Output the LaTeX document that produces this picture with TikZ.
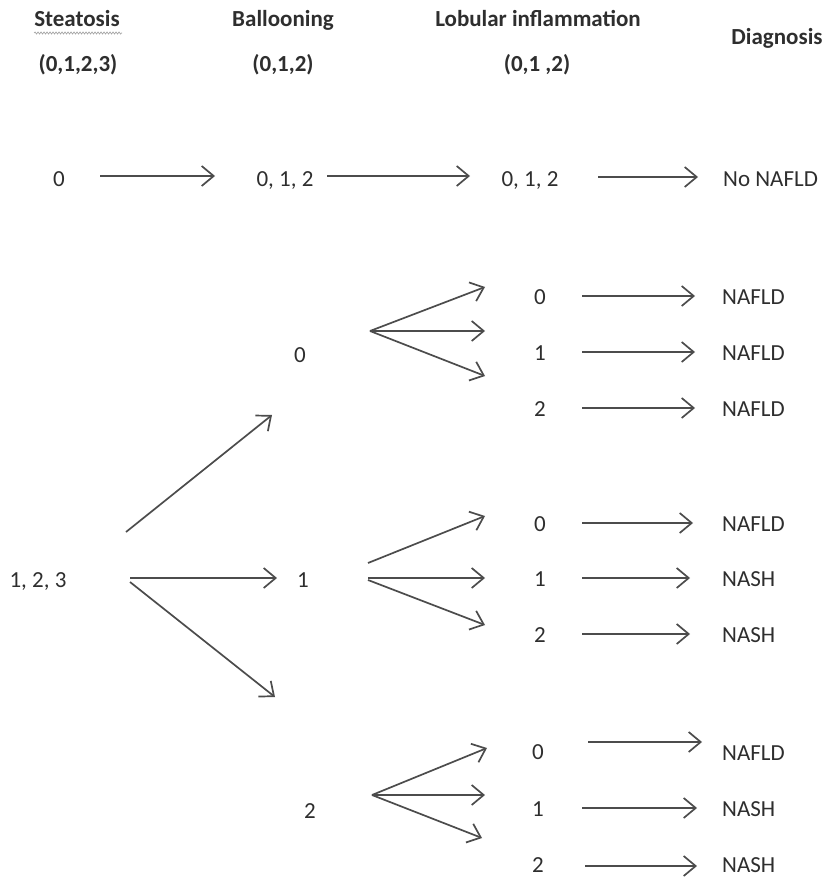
\documentclass[tikz,border=0pt]{standalone}
\usepackage{fontspec}
\setmainfont{Carlito}
\usetikzlibrary{arrows.meta,decorations.pathmorphing}
\begin{document}
\begin{tikzpicture}[x=1pt,y=-1pt,
  lbl/.style={font=\fontsize{23}{27}\selectfont, text=black!82, inner sep=0pt, anchor=base},
  dlbl/.style={lbl, anchor=base west},
  hdr/.style={lbl, font=\fontsize{23}{27}\selectfont\bfseries},
  arr/.style={draw=black!70, line width=1.7pt, -{Straight Barb[length=12pt,width=20pt,line width=1.7pt]}}]
\useasboundingbox (0,0) rectangle (825,877);
% headers
\node[hdr] (hS) at (77,27) {Steatosis};
\node[hdr] (hS2) at (78,72) {(0,1,2,3)};
\node[hdr] (hB) at (283,27) {Ballooning};
\node[hdr] (hB2) at (283,72) {(0,1,2)};
\node[hdr] (hL) at (538,27) {Lobular inflammation};
\node[hdr] (hL2) at (537,72) {(0,1 ,2)};
\node[hdr] (hD) at (777,45) {Diagnosis};
\draw[black!35, line width=0.7pt, decorate, decoration={snake, amplitude=1pt, segment length=3pt}] (hS.base west) ++(0,6) -- ++(88,0);
% row 1
\node[lbl] (s0) at (59,187) {0};
\node[lbl] (b012) at (285,187) {0, 1, 2};
\node[lbl] (l012) at (530,187) {0, 1, 2};
\node[dlbl] (dno) at (723,187) {No NAFLD};
\coordinate (r1a) at (100,176); \coordinate (r1b) at (215,176);
\coordinate (r1c) at (327,176); \coordinate (r1d) at (470,176);
\coordinate (r1e) at (598,177); \coordinate (r1f) at (698,177);
\draw[arr] (r1a) -- (r1b);
\draw[arr] (r1c) -- (r1d);
\draw[arr] (r1e) -- (r1f);
% steatosis 1,2,3
\node[lbl] (s123) at (38,587) {1, 2, 3};
\coordinate (sA) at (126,532); \coordinate (sAe) at (272,415);
\coordinate (sB) at (130,578); \coordinate (sBe) at (277,578);
\coordinate (sC) at (130,582); \coordinate (sCe) at (275,697);
\draw[arr] (sA) -- (sAe);
\draw[arr] (sB) -- (sBe);
\draw[arr] (sC) -- (sCe);
% ballooning nodes
\node[lbl] (b0) at (300,362) {0};
\node[lbl] (b1) at (303,587) {1};
\node[lbl] (b2) at (310,818) {2};
% fan from b0
\coordinate (f0) at (370,331);
\coordinate (f0a) at (485,287); \coordinate (f0b) at (485,331); \coordinate (f0c) at (485,376);
\draw[arr] (f0) -- (f0a); \draw[arr] (f0) -- (f0b); \draw[arr] (f0) -- (f0c);
% fan from b1
\coordinate (f1u) at (368,563); \coordinate (f1m) at (368,578); \coordinate (f1l) at (368,580);
\coordinate (f1a) at (485,516); \coordinate (f1b) at (485,578); \coordinate (f1c) at (485,625);
\draw[arr] (f1u) -- (f1a); \draw[arr] (f1m) -- (f1b); \draw[arr] (f1l) -- (f1c);
% fan from b2
\coordinate (f2) at (372,795);
\coordinate (f2a) at (487,748); \coordinate (f2b) at (485,795); \coordinate (f2c) at (482,838);
\draw[arr] (f2) -- (f2a); \draw[arr] (f2) -- (f2b); \draw[arr] (f2) -- (f2c);
% lobular nodes
\node[lbl] (l00) at (540,304) {0};
\node[lbl] (l01) at (540,360) {1};
\node[lbl] (l02) at (540,416) {2};
\node[lbl] (l10) at (540,531) {0};
\node[lbl] (l11) at (540,586) {1};
\node[lbl] (l12) at (540,642) {2};
\node[lbl] (l20) at (538,759) {0};
\node[lbl] (l21) at (538,816) {1};
\node[lbl] (l22) at (538,872) {2};
% diagnosis nodes
\node[dlbl] (d00) at (722,304) {NAFLD};
\node[dlbl] (d01) at (722,360) {NAFLD};
\node[dlbl] (d02) at (722,416) {NAFLD};
\node[dlbl] (d10) at (722,531) {NAFLD};
\node[dlbl] (d11) at (722,586) {NASH};
\node[dlbl] (d12) at (722,642) {NASH};
\node[dlbl] (d20) at (722,760) {NAFLD};
\node[dlbl] (d21) at (722,816) {NASH};
\node[dlbl] (d22) at (722,872) {NASH};
% lobular -> diagnosis arrows
\coordinate (g00) at (582,296); \coordinate (h00) at (695,296);
\coordinate (g01) at (582,352); \coordinate (h01) at (695,352);
\coordinate (g02) at (582,408); \coordinate (h02) at (695,408);
\coordinate (g10) at (582,523); \coordinate (h10) at (693,523);
\coordinate (g11) at (582,578); \coordinate (h11) at (690,578);
\coordinate (g12) at (582,634); \coordinate (h12) at (690,634);
\coordinate (g20) at (588,742); \coordinate (h20) at (702,742);
\coordinate (g21) at (582,808); \coordinate (h21) at (697,808);
\coordinate (g22) at (585,866); \coordinate (h22) at (697,866);
\foreach \k in {00,01,02,10,11,12,20,21,22} \draw[arr] (g\k) -- (h\k);
\end{tikzpicture}
\end{document}
